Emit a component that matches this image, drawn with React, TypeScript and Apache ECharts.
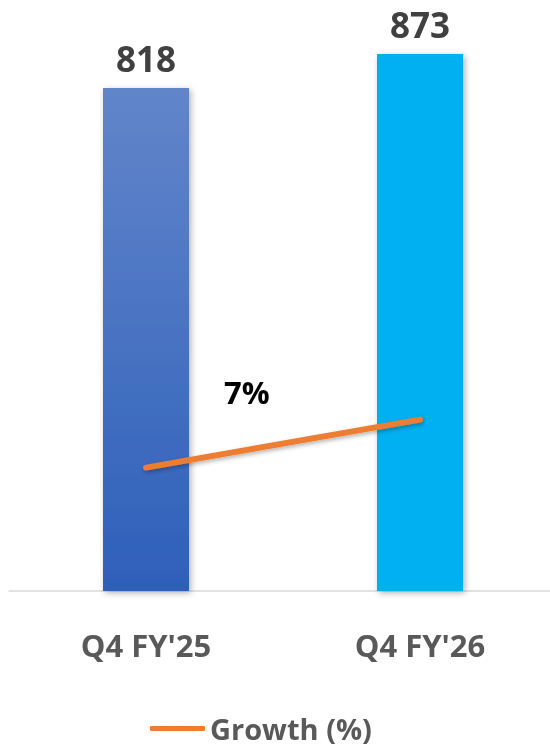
import React, { useEffect, useRef } from "react";
import * as echarts from "echarts";

const categories = ["Q4 FY'25", "Q4 FY'26"];
const revenueValues = [818, 873];
const growthLine = [0, 7];
const growthLabel = "7%";
const legendName = "Growth (%)";

export default function App() {
  const ref = useRef<HTMLDivElement>(null);
  useEffect(() => {
    if (!ref.current) return;
    const chart = echarts.init(ref.current, null, { renderer: "svg" });
    const font = "'Open Sans', 'DejaVu Sans', sans-serif";
    chart.setOption({
      animation: false,
      grid: { left: 9, width: 548, top: 0, height: 591, outerBoundsMode: "none", containLabel: false },
      legend: {
        data: [{ name: legendName, icon: "roundRect" }],
        top: 714,
        left: 150,
        itemWidth: 55,
        itemHeight: 5,
        itemGap: 5,
        padding: 0,
        itemStyle: { color: "#ed7d31" },
        textStyle: {
          fontFamily: font,
          fontSize: 29,
          lineHeight: 29,
          fontWeight: "bold",
          color: "#595959",
        },
      },
      xAxis: {
        type: "category",
        data: categories,
        axisTick: { show: false },
        axisLine: { lineStyle: { color: "#d9d9d9", width: 1.5 } },
        axisLabel: {
          margin: 38,
          fontFamily: font,
          fontSize: 31,
          fontWeight: "bold",
          color: "#595959",
        },
      },
      yAxis: [
        { type: "value", min: 0, max: 961, show: false, splitLine: { show: false } },
        { type: "value", min: -18, max: 68.2, show: false, splitLine: { show: false } },
      ],
      series: [
        {
          type: "bar",
          barWidth: 86,
          data: revenueValues.map((v, i) => ({
            value: v,
            itemStyle:
              i === 0
                ? {
                    color: new echarts.graphic.LinearGradient(0, 0, 0, 1, [
                      { offset: 0, color: "#6285ca" },
                      { offset: 1, color: "#2e60ba" },
                    ]),
                  }
                : { color: "#00b0f0" },
          })),
          itemStyle: {
            shadowBlur: 6,
            shadowColor: "rgba(0,0,0,0.3)",
            shadowOffsetX: 2,
            shadowOffsetY: 2,
          },
          label: {
            show: true,
            position: "top",
            distance: 12,
            fontFamily: font,
            fontSize: 35,
            fontWeight: "bold",
            color: "#404040",
          },
        },
        {
          type: "line",
          name: legendName,
          yAxisIndex: 1,
          data: growthLine,
          symbol: "none",
          lineStyle: {
            color: "#ed7d31",
            width: 6,
            cap: "round",
            shadowBlur: 4,
            shadowColor: "rgba(0,0,0,0.3)",
            shadowOffsetX: 1,
            shadowOffsetY: 2,
          },
          itemStyle: { color: "#ed7d31" },
        },
      ],
      graphic: [
        {
          type: "text",
          left: 224,
          top: 376,
          style: {
            text: growthLabel,
            fontFamily: font,
            fontSize: 31,
            fontWeight: "bold",
            fill: "#000000",
          },
        },
      ],
    });
    return () => chart.dispose();
  }, []);
  return (
    <div
      ref={ref}
      style={{ position: "fixed", left: 0, top: 0, width: 550, height: 750 }}
    />
  );
}
